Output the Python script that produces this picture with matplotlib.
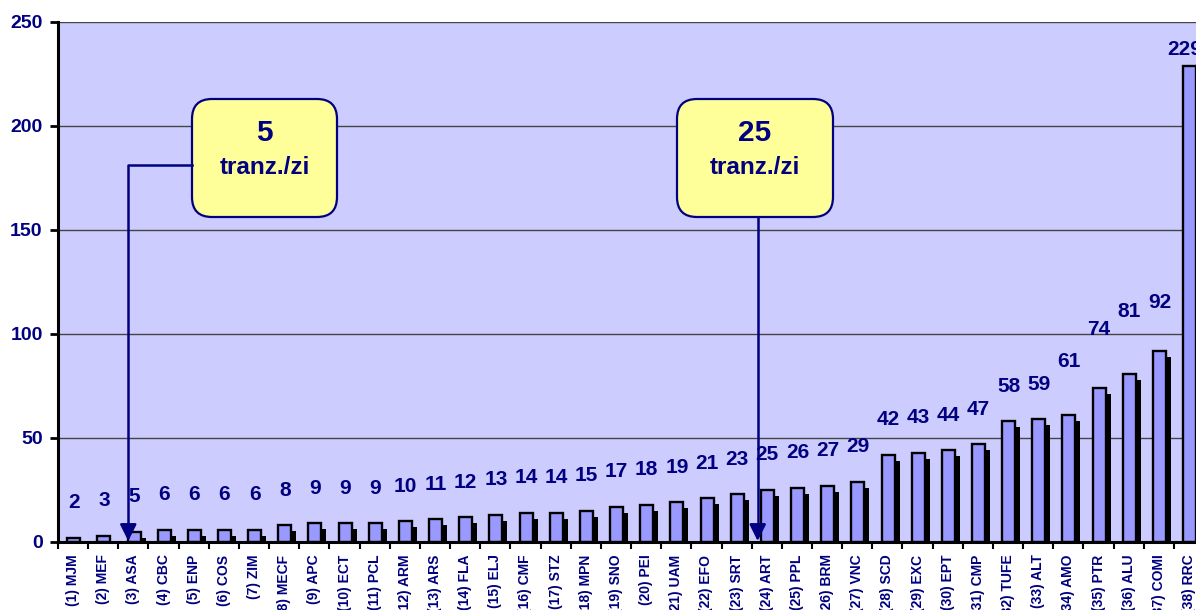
import matplotlib
matplotlib.use("Agg")
import matplotlib.pyplot as plt
from matplotlib.patches import FancyBboxPatch
import numpy as np

plt.rcParams['font.family'] = ['Liberation Sans', 'DejaVu Sans']

categories = ["(1) MJM", "(2) MEF", "(3) ASA", "(4) CBC", "(5) ENP", "(6) COS", "(7) ZIM",
              "(8) MECF", "(9) APC", "(10) ECT", "(11) PCL", "(12) ARM", "(13) ARS", "(14) FLA",
              "(15) ELJ", "(16) CMF", "(17) STZ", "(18) MPN", "(19) SNO", "(20) PEI", "(21) UAM",
              "(22) EFO", "(23) SRT", "(24) ART", "(25) PPL", "(26) BRM", "(27) VNC", "(28) SCD",
              "(29) EXC", "(30) EPT", "(31) CMP", "(32) TUFE", "(33) ALT", "(34) AMO", "(35) PTR",
              "(36) ALU", "(37) COMI", "(38) RRC"]
values = [2, 3, 5, 6, 6, 6, 6, 8, 9, 9, 9, 10, 11, 12, 13, 14, 14, 15, 17, 18, 19,
          21, 23, 25, 26, 27, 29, 42, 43, 44, 47, 58, 59, 61, 74, 81, 92, 229]
y_ticks = [0, 50, 100, 150, 200, 250]
callout_texts = [("5", "tranz./zi"), ("25", "tranz./zi")]
callout_targets = ["(3) ASA", "(24) ART"]

NAVY = "#000080"
W, H = 1196, 610
fig = plt.figure(figsize=(W / 100, H / 100), dpi=100)
fig.patch.set_facecolor("white")

ax_left_px, ax_top_px, ax_bottom_px = 58, 22, 542
slot_px = 30.16
ax_w_px = slot_px * len(categories)
ax_h_px = ax_bottom_px - ax_top_px
ax = fig.add_axes([ax_left_px / W, (H - ax_bottom_px) / H, ax_w_px / W, ax_h_px / H])
ax.set_facecolor("#CCCCFF")

n = len(categories)
x = np.arange(n)
ax.set_xlim(-0.5, n - 0.5)
ax.set_ylim(0, 250)

px_x = 1.0 / slot_px            # data units per pixel (x)
px_y = 250.0 / ax_h_px          # data units per pixel (y)
bw = 13 * px_x
xc = x + 0.02

# shadow bars
ax.bar(xc + 5 * px_x, np.maximum(np.array(values) - 6 * px_y, 0), width=bw,
       color="black", edgecolor="none", zorder=2)
# main bars
ax.bar(xc, values, width=bw, color="#9999FF", edgecolor="black", linewidth=1.7, zorder=3)

# value labels
extra = {33: 9, 34: 11.5, 35: 13, 36: 6.5, 37: -9}
xshift = {37: -5}
for i, v in enumerate(values):
    off = 35 * px_y + extra.get(i, 0)
    ax.text(xc[i] + xshift.get(i, 0) * px_x, v + off, str(v), ha="center", va="center",
            fontsize=15, fontweight="bold", color=NAVY, zorder=5, clip_on=False)

# grid
ax.set_yticks(y_ticks)
for yv in y_ticks[1:]:
    ax.axhline(yv, color="#444444", lw=1.0, zorder=1)

for s in ["top", "right"]:
    ax.spines[s].set_visible(False)
ax.spines["left"].set_linewidth(2.2)
ax.spines["bottom"].set_linewidth(2.2)
ax.spines["left"].set_zorder(6)
ax.spines["bottom"].set_zorder(6)

ax.tick_params(axis="y", length=6, width=2, pad=5, labelsize=14, labelcolor=NAVY)
for t in ax.get_yticklabels():
    t.set_fontweight("bold")

ax.set_xticks(x)
ax.set_xticklabels(categories, rotation=90, fontsize=10, fontweight="bold", color=NAVY)
ax.tick_params(axis="x", which="major", length=0, pad=9)
ax.set_xticks(np.arange(n + 1) - 0.5, minor=True)
ax.tick_params(axis="x", which="minor", length=5, width=1.5)

# callouts
def data_from_px(px, py):
    return (px - ax_left_px) * px_x - 0.5, (ax_bottom_px - py) * px_y

ma = ax_w_px / ax_h_px
boxes_px = [(192, 99, 337, 217), (677, 99, 833, 217)]
for (bx0, by0, bx1, by1), (big, small) in zip(boxes_px, callout_texts):
    fx0 = (bx0 - ax_left_px) / ax_w_px
    fx1 = (bx1 - ax_left_px) / ax_w_px
    fy0 = (ax_bottom_px - by1) / ax_h_px
    fy1 = (ax_bottom_px - by0) / ax_h_px
    patch = FancyBboxPatch((fx0, fy0), fx1 - fx0, fy1 - fy0,
                           boxstyle=f"round,pad=0,rounding_size={20 / ax_w_px}",
                           mutation_aspect=ma, transform=ax.transAxes,
                           facecolor="#FFFF99", edgecolor=NAVY, linewidth=1.6, zorder=7)
    ax.add_patch(patch)
    cx = (fx0 + fx1) / 2
    ax.text(cx, (ax_bottom_px - (by0 + 34)) / ax_h_px, big, transform=ax.transAxes,
            ha="center", va="center", fontsize=21.5, fontweight="bold", color=NAVY, zorder=8)
    ax.text(cx, (ax_bottom_px - (by0 + 68)) / ax_h_px, small, transform=ax.transAxes,
            ha="center", va="center", fontsize=17.5, fontweight="bold", color=NAVY, zorder=8)

# connector 1: from left of box 1 horizontally, then down to bar (3)
t1 = categories.index(callout_targets[0])
ax1x = t1 - 0.17
xa, ya = data_from_px(192, 165)
ax.plot([xa, ax1x, ax1x], [ya, ya, 10 * px_y], color=NAVY, lw=1.8, zorder=7)
ax.annotate("", xy=(ax1x, 1 * px_y), xytext=(ax1x, 16 * px_y),
            arrowprops=dict(arrowstyle="-|>,head_length=1.0,head_width=0.5",
                            color=NAVY, lw=1.8, shrinkA=0, shrinkB=0), zorder=8)

# connector 2: from bottom of box 2 down to bar (24)
t2 = categories.index(callout_targets[1])
ax2x = t2 - 0.3
_, yb = data_from_px(757, 217)
ax.plot([ax2x, ax2x], [yb, 10 * px_y], color=NAVY, lw=1.8, zorder=7)
ax.annotate("", xy=(ax2x, 1 * px_y), xytext=(ax2x, 16 * px_y),
            arrowprops=dict(arrowstyle="-|>,head_length=1.0,head_width=0.5",
                            color=NAVY, lw=1.8, shrinkA=0, shrinkB=0), zorder=8)

fig.savefig("out.png", dpi=100)
